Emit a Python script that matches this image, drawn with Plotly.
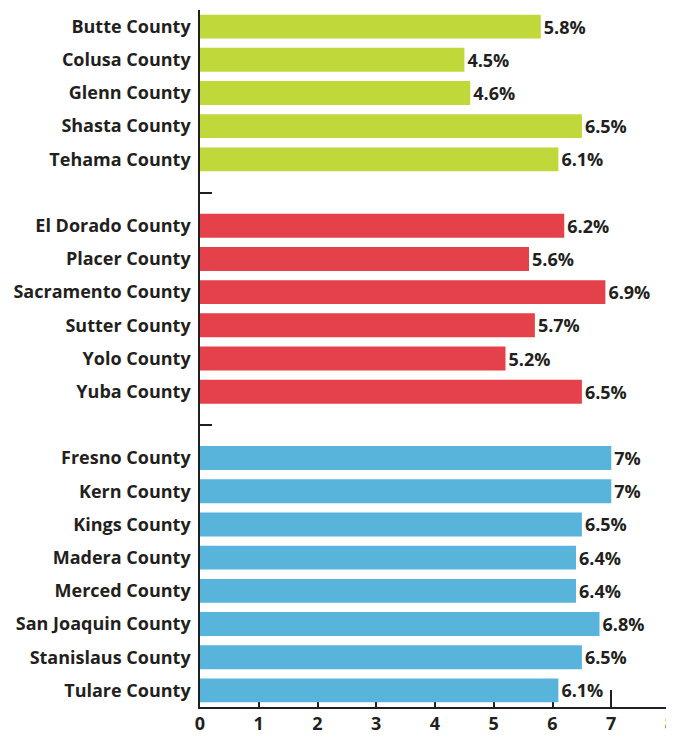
import plotly.graph_objects as go

north_counties = ["Butte County", "Colusa County", "Glenn County", "Shasta County", "Tehama County"]
north_values = [5.8, 4.5, 4.6, 6.5, 6.1]

sac_counties = ["El Dorado County", "Placer County", "Sacramento County", "Sutter County", "Yolo County", "Yuba County"]
sac_values = [6.2, 5.6, 6.9, 5.7, 5.2, 6.5]

sj_counties = ["Fresno County", "Kern County", "Kings County", "Madera County", "Merced County",
               "San Joaquin County", "Stanislaus County", "Tulare County"]
sj_values = [7, 7, 6.5, 6.4, 6.4, 6.8, 6.5, 6.1]

group_colors = ["#c0d83a", "#e5414a", "#59b4dc"]
x_ticks = [0, 1, 2, 3, 4, 5, 6, 7, 8]

gap1, gap2 = "gap_1", "gap_2"
category_order = north_counties + [gap1] + sac_counties + [gap2] + sj_counties
tick_text = [("" if c.startswith("gap_") else c) for c in category_order]

TXT = "#231f20"
FONT = "Open Sans"
FS = 18

fig = go.Figure()
for names, vals, col in [(north_counties, north_values, group_colors[0]),
                         (sac_counties, sac_values, group_colors[1]),
                         (sj_counties, sj_values, group_colors[2])]:
    fig.add_trace(go.Bar(
        x=vals, y=names, orientation="h",
        marker=dict(color=col, line=dict(width=0)),
        text=[f"{v:g}%" for v in vals],
        textposition="outside",
        constraintext="none",
        cliponaxis=False,
        textfont=dict(family=FONT, size=FS, color=TXT, weight="bold"),
        hoverinfo="skip",
    ))

# the page body adds an 8px margin, so the figure is sized/offset to compensate
fig.update_layout(
    template="none",
    width=666, height=728,
    margin=dict(l=192, r=4, t=2, b=29, autoexpand=False),
    paper_bgcolor="white", plot_bgcolor="white",
    showlegend=False,
    bargap=0.28,
    font=dict(family=FONT, color=TXT),
)
fig.update_xaxes(
    automargin=False,
    range=[0, 8], tickvals=x_ticks, ticktext=[str(t) for t in x_ticks],
    showgrid=False, zeroline=False,
    showline=True, linecolor=TXT, linewidth=1.5,
    ticks="inside", ticklen=17, tickwidth=1.5, tickcolor=TXT,
    tickfont=dict(family=FONT, size=FS, color=TXT, weight="bold"),
    ticklabeloverflow="allow",
    layer="below traces",
)
fig.update_yaxes(
    automargin=False,
    type="category", categoryorder="array", categoryarray=category_order,
    tickvals=category_order, ticktext=tick_text,
    autorange="reversed",
    showgrid=False, zeroline=False,
    showline=True, linecolor=TXT, linewidth=1.5,
    ticks="inside", ticklen=12, tickwidth=1.5, tickcolor=TXT,
    tickfont=dict(family=FONT, size=FS, color=TXT, weight="bold"),
    ticklabelstandoff=4,
    layer="below traces",
)

fig.write_html("out.html")
